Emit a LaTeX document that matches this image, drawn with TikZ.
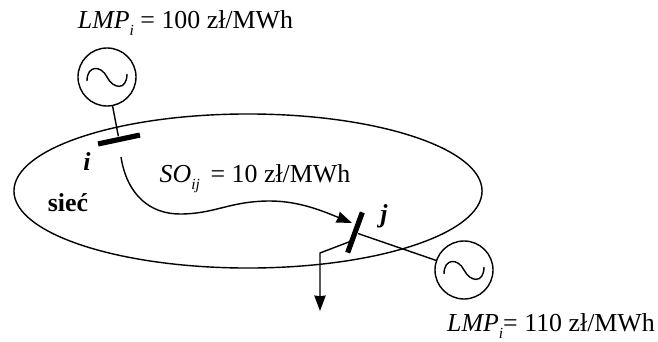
\documentclass[tikz,border=0pt]{standalone}
\usepackage{fontspec}
\setmainfont{Liberation Serif}
\usetikzlibrary{arrows.meta,positioning,shapes.geometric}
\newcommand{\lowidx}[1]{\raisebox{-.65ex}{\fontsize{11}{13}\selectfont\textit{#1}}}

\begin{document}
\begin{tikzpicture}[x=.025cm,y=-.025cm,font=\fontsize{18.4}{22}\selectfont,line width=1pt,
gen/.style={circle,draw,minimum size=1.45cm,inner sep=0pt,
  path picture={\draw[line width=1pt]([shift={(-.5cm,-.1cm)}]path picture bounding box.center)
    .. controls +(0cm,.4cm) and +(-.15cm,.3cm) .. (path picture bounding box.center)
    .. controls +(.15cm,-.3cm) and +(0cm,-.43cm) .. ([shift={(.5cm,.08cm)}]path picture bounding box.center);}},
bus/.style={fill=black,minimum width=1.07cm,minimum height=.13cm,inner sep=0pt},
lab/.style={inner sep=0pt,anchor=base},
flow/.style={-{Stealth[length=11pt,width=8pt,inset=.5pt]},line width=1pt}]
\useasboundingbox (0,0) rectangle (658,342);

\node[draw,ellipse,minimum width=11.7cm,minimum height=3.85cm,inner sep=0pt](net)at(248,191){};

\node[gen](geni)at(107,77){};
\node[bus,rotate=12](busi)at(119,139.5){};
\node[gen](genj)at(464,270){};
\node[bus,rotate=70](busj)at(355,232.5){};
\draw(geni)--(busi);
\draw(genj)--(busj);

\coordinate(flowstart)at(121,157);
\coordinate(flowend)at(352,223);
\draw[flow](flowstart)..controls(127,195)and(150,214)..(180,214)..controls(215,214)and(230,201)..(270,201)..controls(300,201)and(325,212)..(flowend);

\coordinate(loadtap)at(354,240);
\coordinate(loadbend)at(320,253);
\coordinate(loadend)at(320,311);
\draw[flow](loadtap)--(loadbend)--(loadend);

\node[lab](lmpi)at(185.5,28){\textit{LMP}\lowidx{i} = 100 zł/MWh};
\node[lab](lmpj)at(551,331){\textit{LMP}\lowidx{i}= 110 zł/MWh};
\node[lab](soij)at(255,182){\textit{SO}\lowidx{ij}\hspace{3pt} = 10 zł/MWh};
\node[lab](labi)at(87,170){\textbf{\textit{i}}};
\node[lab](labj)at(384,222){\textbf{\textit{j}}};
\node[lab](siec)at(68,211){\textbf{sieć}};
\end{tikzpicture}
\end{document}
